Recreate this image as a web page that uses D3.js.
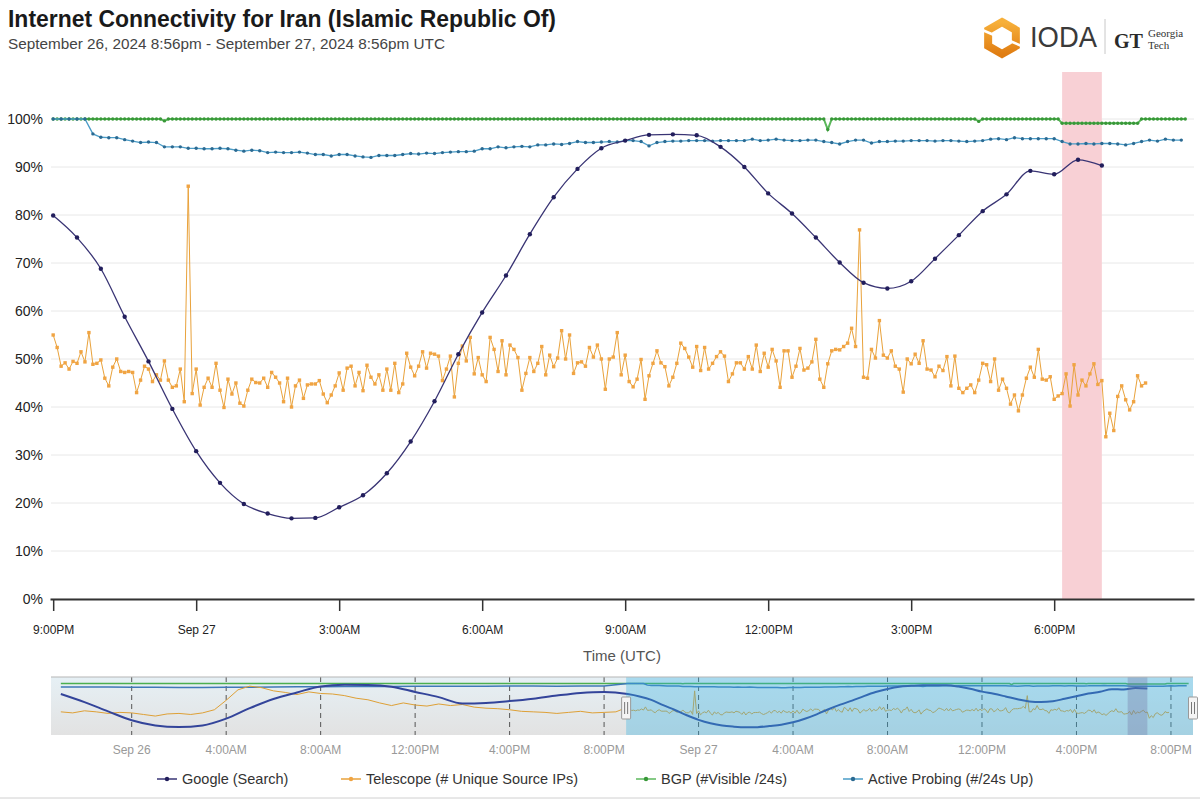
<!DOCTYPE html>
<html><head><meta charset="utf-8">
<script src="https://cdn.jsdelivr.net/npm/d3@7"></script>
<style>
html,body{margin:0;padding:0;background:#fff;}
svg{display:block;font-family:"Liberation Sans",Arial,Helvetica,sans-serif;}
</style></head><body>
<svg id="chart" width="1200" height="800"></svg>
<script>
// ---------------- DATA ----------------
const titleText = "Internet Connectivity for Iran (Islamic Republic Of)";
const subtitleText = "September 26, 2024 8:56pm - September 27, 2024 8:56pm UTC";
const seriesNames = ["Google (Search)", "Telescope (# Unique Source IPs)", "BGP (#Visible /24s)", "Active Probing (#/24s Up)"];
const yTicks = [0,10,20,30,40,50,60,70,80,90,100];

// Google (Search), every 30 min from Sep 26 21:00 UTC
const googleVals = [79.9,75.3,68.8,58.8,49.5,39.6,30.8,24.2,19.8,17.8,16.8,16.9,19.1,21.6,26.2,32.8,41.2,51.0,59.7,67.4,76.0,83.7,89.6,93.9,95.5,96.7,96.8,96.6,94.2,90.0,84.5,80.3,75.3,70.1,65.9,64.7,66.2,70.9,75.8,80.8,84.3,89.2,88.5,91.5,90.3];

// Telescope, every 5 min from Sep 26 21:00 UTC
const telescopeVals = [
55.0,52.4,48.5,49.2,47.9,49.5,49.1,51.5,49.4,55.5,
48.9,49.1,49.8,46.0,44.4,48.3,50.0,47.4,47.2,47.4,
47.2,43.0,45.6,48.5,47.9,45.3,46.7,45.6,49.6,45.6,
44.1,44.4,47.9,41.1,86.0,42.8,47.9,40.4,44.1,46.0,
44.1,49.1,43.5,39.9,45.8,42.7,45.0,40.8,40.2,43.5,
45.8,45.1,45.0,46.0,44.1,47.2,46.2,45.0,41.1,46.0,
40.0,44.4,45.6,41.8,44.6,44.8,44.8,45.5,42.7,40.9,
42.5,44.4,47.1,43.5,48.1,48.5,44.4,47.2,43.4,48.7,
46.2,44.8,46.7,43.5,47.9,43.5,49.1,
43.0,44.8,51.2,48.3,46.5,48.5,51.5,48.1,51.2,51.0,
50.6,45.5,47.9,50.6,42.1,49.1,52.7,49.6,54.5,46.9,
50.3,46.7,45.3,54.5,52.0,47.4,53.8,46.7,52.9,52.0,
50.3,43.5,47.0,50.3,47.4,49.1,52.6,46.7,50.8,48.4,
50.2,55.9,50.0,55.0,47.0,49.2,
49.4,48.5,52.4,50.4,52.9,50.0,43.7,50.0,50.4,55.5,
46.7,50.8,45.3,44.2,45.8,49.9,41.6,46.5,49.1,51.7,
49.2,48.4,44.4,46.2,49.1,53.3,52.2,50.4,48.3,52.6,
47.6,52.4,47.9,49.1,50.5,51.5,50.6,45.3,46.9,49.2,
49.2,47.9,50.5,47.9,52.9,47.4,51.2,48.3,52.0,49.6,
44.1,51.7,51.7,46.2,48.5,52.2,47.7,48.1,49.4,54.1,
45.8,44.1,49.0,51.7,52.0,51.9,52.6,53.3,56.4,52.6,
76.9,46.2,46.0,52.0,50.2,58.0,50.8,50.2,51.7,48.5,
47.9,43.1,50.0,49.0,51.0,49.1,53.8,47.9,47.7,46.3,
48.5,47.6,50.5,44.4,50.6,43.9,43.0,43.9,44.6,43.0,
45.6,49.1,48.8,45.3,50.0,43.5,45.8,43.9,40.6,42.5,
39.2,42.5,46.0,48.3,46.2,52.0,45.8,45.6,46.3,41.6,
42.3,42.8,46.9,40.2,48.8,42.5,45.6,44.4,46.9,49.0,
44.7,45.5,33.8,38.7,35.1,42.2,44.4,41.5,39.4,41.1,
46.5,44.4,45.0];

// BGP, every 5 min from Sep 26 21:00 UTC
const bgpVals = [
100,100,100,100,100,100,100,100,100,100,100,100,100,100,100,100,100,100,100,100,
100,100,100,100,100,100,100,100,99.6,100,100,100,100,100,100,100,100,100,100,100,
100,100,100,100,100,100,100,100,100,100,100,100,100,100,100,100,100,100,100,100,
100,100,100,100,100,100,100,100,100,100,100,100,100,100,100,100,100,100,100,100,
100,100,100,100,100,100,100,100,100,100,100,100,100,100,100,100,100,100,100,100,
100,100,100,100,100,100,100,100,100,100,100,100,100,100,100,100,100,100,100,100,
100,100,100,100,100,100,100,100,100,100,100,100,100,100,100,100,100,100,100,100,
100,100,100,100,100,100,100,100,100,100,100,100,100,100,100,100,100,100,100,100,
100,100,100,100,100,100,100,100,100,100,100,100,100,100,100,100,100,100,100,100,
100,100,100,100,100,100,100,100,100,100,100,100,100,100,100,97.8,100,100,100,100,
100,100,100,100,100,100,100,100,100,100,100,100,100,100,100,100,100,100,100,100,
100,100,100,100,100,100,100,100,100,100,100,100,100,99.5,100,100,100,100,100,100,
100,100,100,100,100,100,100,100,100,100,100,100,100,100,99.1,99.1,99.1,99.1,99.1,99.1,
99.1,99.1,99.1,99.1,99.1,99.1,99.1,99.1,99.1,99.1,99.1,99.1,99.1,99.1,100,100,100,100,100,100,
100,100,100,100,100,100];

// Active Probing, every 10 min from Sep 26 21:00 UTC
const probingVals = [
100,100,100,100,100,96.9,96.2,96.1,96.1,95.7,95.4,95.1,95.2,95.1,94.2,94.2,94.2,93.9,93.9,93.8,
93.8,93.9,93.8,93.5,93.3,93.5,93.4,93.0,93.1,93.0,93.0,93.1,92.9,92.6,92.6,92.3,92.6,92.6,92.3,92.1,
92.0,92.4,92.4,92.4,92.6,92.8,92.7,92.9,92.8,93.0,93.1,93.2,93.2,93.3,93.8,93.8,94.2,94.0,94.2,94.3,
94.2,94.6,94.6,94.8,94.7,94.9,95.3,95.1,95.1,95.2,95.3,95.2,95.5,95.5,95.3,94.4,95.1,95.3,95.4,95.4,
95.5,95.5,95.5,95.4,95.5,95.5,95.5,95.5,95.8,95.5,95.6,95.8,95.6,95.5,95.5,95.6,95.6,95.3,95.1,94.8,
95.3,95.6,95.6,95.0,95.3,95.3,95.4,95.4,95.5,95.5,95.5,95.4,95.5,95.5,95.4,95.3,95.4,95.5,95.8,95.9,
95.7,96.1,95.9,95.9,95.9,95.9,95.9,95.3,94.8,94.8,94.9,94.8,94.9,94.9,94.8,94.6,94.9,95.3,95.6,95.4,
95.8,95.6,95.6];

// Navigator: previous day (Sep 25 21:00 -> Sep 26 20:xx UTC)
const navGooglePrev = [80,64.5,47,30,20,17,20,33,53,70.5,83,94.5,97.5,97.2,94,84,74,62,63,66.5,71,77,82,84]; // hourly
const navTelescopePrev = [46,44,48,46,43,45,44,41,38,42,43,41,44,50,68,88,95,92,86,83,79,84,81,80,77,72,69,63,58,63,59,57,61,58,60,55,53,52,50,47,46,45,43,45,47,44,45,46]; // 30 min
const navProbingPrev = [93.5,93.2,93.4,93.0,92.8,92.6,92.5,92.7,93.0,93.3,93.6,93.9,94.2,94.4,94.5,94.6,94.7,94.8,95.0,95.1,95.2,95.0,95.1,95.2]; // hourly
const navBgpPrev = [100,100,100,100,100,100,100,100,100,100,100,100,100,100,100,100,100,100,100,100,100,100,100,100]; // hourly

// ---------------- LAYOUT ----------------
const colors = {google:"#393474", googleDot:"#221e5c", tele:"#e9a23b", teleDot:"#f0a443",
                bgp:"#5cb85c", bgpDot:"#389838", probe:"#4a9cc7", probeDot:"#2b6a92"};
const navColors = {google:"#33449a", tele:"#dea036", bgp:"#4caf50", probe:"#3f78b8"};
const MIN = 60000;
const t0 = Date.UTC(2024,8,26,21,0);
const series = (vals, stepMin, start) => vals.map((v,i)=>({t:new Date(start + i*stepMin*MIN), v}));

const googleData = series(googleVals, 30, t0);
const teleData = series(telescopeVals, 5, t0);
const bgpData = series(bgpVals, 5, t0);
const probeData = series(probingVals, 10, t0);

const svg = d3.select("#chart");
const x = d3.scaleUtc().domain([new Date(Date.UTC(2024,8,26,20,56)), new Date(Date.UTC(2024,8,27,20,56))]).range([50,1194]);
const y = d3.scaleLinear().domain([0,100]).range([599,119]);

const fmtTime = d3.utcFormat("%-I:%M%p");
const fmtDay = d3.utcFormat("%b %-d");
const tickFmt = d => (d.getUTCHours()===0 && d.getUTCMinutes()===0) ? fmtDay(d) : fmtTime(d);

// Title
svg.append("text").attr("x",8).attr("y",27).attr("font-size",23).attr("font-weight","bold")
  .attr("fill","#1a1a1a").attr("textLength",548).attr("lengthAdjust","spacingAndGlyphs").text(titleText);
svg.append("text").attr("x",8).attr("y",49).attr("font-size",15).attr("fill","#444")
  .attr("textLength",437).attr("lengthAdjust","spacingAndGlyphs").text(subtitleText);

// Logo
const defs = svg.append("defs");
const lg = defs.append("linearGradient").attr("id","hexg").attr("x1",0).attr("y1",0).attr("x2",0).attr("y2",1);
lg.append("stop").attr("offset","0%").attr("stop-color","#f7b03a");
lg.append("stop").attr("offset","100%").attr("stop-color","#e07d12");
const hc = [1002,38], hr = 16;
const hexPts = d3.range(6).map(i=>{const a=Math.PI/180*(60*i-90);return [hc[0]+hr*Math.cos(a), hc[1]+hr*Math.sin(a)];});
svg.append("path").attr("d","M"+hexPts.map(p=>p.join(",")).join("L")+"Z")
  .attr("fill","none").attr("stroke","url(#hexg)").attr("stroke-width",8).attr("stroke-linejoin","miter");
svg.append("line").attr("x1",hc[0]-22).attr("y1",hc[1]-9).attr("x2",hc[0]-8).attr("y2",hc[1]-3).attr("stroke","#fff").attr("stroke-width",2.5);
svg.append("line").attr("x1",hc[0]+8).attr("y1",hc[1]+3).attr("x2",hc[0]+22).attr("y2",hc[1]+9).attr("stroke","#fff").attr("stroke-width",2.5);
svg.append("text").attr("x",1030).attr("y",47).attr("font-size",30).attr("fill","#3a3a3a")
  .attr("textLength",67).attr("lengthAdjust","spacingAndGlyphs").text("IODA");
svg.append("line").attr("x1",1105).attr("x2",1105).attr("y1",19).attr("y2",54).attr("stroke","#c8c8c8");
svg.append("text").attr("x",1114).attr("y",48).attr("font-size",21).attr("font-weight","bold")
  .attr("font-family","'Liberation Serif','DejaVu Serif',serif").attr("fill","#2a2a2a")
  .attr("textLength",29).attr("lengthAdjust","spacingAndGlyphs").text("GT");
svg.append("text").attr("x",1148).attr("y",37).attr("font-size",11).attr("font-family","'Liberation Serif','DejaVu Serif',serif").attr("fill","#333").text("Georgia");
svg.append("text").attr("x",1148).attr("y",49).attr("font-size",11).attr("font-family","'Liberation Serif','DejaVu Serif',serif").attr("fill","#333").text("Tech");

// Gridlines
svg.append("g").selectAll("line").data(yTicks).join("line")
  .attr("x1",51).attr("x2",1194).attr("y1",d=>y(d)).attr("y2",d=>y(d))
  .attr("stroke","#e8e8e8").attr("stroke-width",1);

// Outage band
const bandStart = new Date(Date.UTC(2024,8,27,18,10)), bandEnd = new Date(Date.UTC(2024,8,27,19,0));
svg.append("rect").attr("x",x(bandStart)).attr("width",x(bandEnd)-x(bandStart))
  .attr("y",72).attr("height",599-72).attr("fill","#f8d0d5");

// Y axis
const yAxis = svg.append("g").attr("transform","translate(51,0)")
  .call(d3.axisLeft(y).tickValues(yTicks).tickFormat(d=>d+"%").tickSize(0).tickPadding(8));
yAxis.select(".domain").remove();
yAxis.selectAll("text").attr("font-size",14).attr("fill","#222").attr("font-family","'Liberation Sans',Arial,sans-serif");

// X axis
const xTicks = d3.utcHour.every(3).range(x.domain()[0], x.domain()[1]);
const xAxis = svg.append("g").attr("transform","translate(0,599)")
  .call(d3.axisBottom(x).tickValues(xTicks).tickFormat(tickFmt).tickSize(12).tickSizeOuter(0).tickPadding(14));
xAxis.select(".domain").attr("stroke","#333").attr("stroke-width",2);
xAxis.selectAll(".tick line").attr("stroke","#333").attr("stroke-width",1.5);
xAxis.selectAll("text").attr("font-size",12).attr("fill","#222").attr("font-family","'Liberation Sans',Arial,sans-serif");
svg.append("text").attr("x",622).attr("y",661).attr("text-anchor","middle").attr("font-size",15).attr("fill","#555").text("Time (UTC)");

// Series lines
defs.append("clipPath").attr("id","plotclip").append("rect").attr("x",48).attr("y",60).attr("width",1150).attr("height",545);
const plot = svg.append("g").attr("clip-path","url(#plotclip)");
const line = d3.line().x(d=>x(d.t)).y(d=>y(d.v));

plot.append("path").datum(teleData).attr("d",line).attr("fill","none").attr("stroke",colors.tele).attr("stroke-width",1);
plot.append("g").selectAll("rect").data(teleData).join("rect")
  .attr("x",d=>x(d.t)-1.7).attr("y",d=>y(d.v)-1.7).attr("width",3.4).attr("height",3.4).attr("fill",colors.teleDot);

plot.append("path").datum(bgpData).attr("d",line).attr("fill","none").attr("stroke",colors.bgp).attr("stroke-width",2);
plot.append("g").selectAll("circle").data(bgpData).join("circle")
  .attr("cx",d=>x(d.t)).attr("cy",d=>y(d.v)).attr("r",1.7).attr("fill",colors.bgpDot);

plot.append("path").datum(probeData).attr("d",line).attr("fill","none").attr("stroke",colors.probe).attr("stroke-width",1.3);
plot.append("g").selectAll("circle").data(probeData).join("circle")
  .attr("cx",d=>x(d.t)).attr("cy",d=>y(d.v)).attr("r",1.7).attr("fill",colors.probeDot);

plot.append("path").datum(googleData).attr("d",line.curve(d3.curveMonotoneX)).attr("fill","none").attr("stroke",colors.google).attr("stroke-width",1.3);
plot.append("g").selectAll("circle").data(googleData).join("circle")
  .attr("cx",d=>x(d.t)).attr("cy",d=>y(d.v)).attr("r",2.2).attr("fill",colors.googleDot);

// ---------------- NAVIGATOR ----------------
const navTop = 677, navBot = 735;
const navX = d3.scaleUtc().domain([new Date(Date.UTC(2024,8,25,20,35)), new Date(Date.UTC(2024,8,27,20,56))]).range([51,1193]);
const navY = d3.scaleLinear().domain([0,100]).range([736,683.5]);
const tPrev = Date.UTC(2024,8,25,21,0);
const navGoogle = series(navGooglePrev,60,tPrev).concat(googleData);
const navTele = series(navTelescopePrev,30,tPrev).concat(teleData);
const navProbe = series(navProbingPrev,60,tPrev).concat(probeData);
const navBgp = series(navBgpPrev,60,tPrev).concat(bgpData);

const ng = defs.append("linearGradient").attr("id","navbg").attr("x1",0).attr("y1",0).attr("x2",0).attr("y2",1);
ng.append("stop").attr("offset","0%").attr("stop-color","#e6f0f5");
ng.append("stop").attr("offset","100%").attr("stop-color","#e2e2e2");
svg.append("rect").attr("x",51).attr("y",navTop).attr("width",1193-51).attr("height",navBot-navTop).attr("fill","url(#navbg)");

const navTicks = d3.utcHour.every(4).range(navX.domain()[0], navX.domain()[1]);
svg.append("g").selectAll("line").data(navTicks).join("line")
  .attr("x1",d=>navX(d)).attr("x2",d=>navX(d)).attr("y1",navTop).attr("y2",navBot)
  .attr("stroke","#555").attr("stroke-dasharray","5,4").attr("stroke-width",1);

defs.append("clipPath").attr("id","navclip").append("rect").attr("x",51).attr("y",navTop).attr("width",1142).attr("height",navBot-navTop);
const nav = svg.append("g").attr("clip-path","url(#navclip)");
const nline = d3.line().x(d=>navX(d.t)).y(d=>navY(d.v));
nav.append("path").datum(navBgp).attr("d",nline).attr("fill","none").attr("stroke",navColors.bgp).attr("stroke-width",1.5);
nav.append("path").datum(navProbe).attr("d",nline).attr("fill","none").attr("stroke",navColors.probe).attr("stroke-width",1.5);
nav.append("path").datum(navTele).attr("d",nline).attr("fill","none").attr("stroke",navColors.tele).attr("stroke-width",1);
nav.append("path").datum(navGoogle).attr("d",d3.line().x(d=>navX(d.t)).y(d=>navY(d.v)).curve(d3.curveMonotoneX)).attr("fill","none").attr("stroke",navColors.google).attr("stroke-width",2);

// selection + outage overlay
const selStart = x.domain()[0], selEnd = x.domain()[1];
svg.append("rect").attr("x",navX(selStart)).attr("y",navTop).attr("width",navX(selEnd)-navX(selStart)).attr("height",navBot-navTop)
  .attr("fill","rgb(52,179,227)").attr("fill-opacity",0.35);
svg.append("rect").attr("x",navX(bandStart)).attr("y",navTop).attr("width",navX(bandEnd)-navX(bandStart)).attr("height",navBot-navTop)
  .attr("fill","#6b6b9c").attr("fill-opacity",0.3);
svg.append("line").attr("x1",51).attr("x2",1193).attr("y1",navTop).attr("y2",navTop).attr("stroke","#b5b5b5");

// handles
[navX(selStart), navX(selEnd)].forEach(hx=>{
  const g = svg.append("g");
  g.append("rect").attr("x",hx-4.5).attr("y",697).attr("width",9).attr("height",22).attr("rx",1)
    .attr("fill","#f4f4f4").attr("stroke","#999");
  g.append("line").attr("x1",hx-1.5).attr("x2",hx-1.5).attr("y1",702).attr("y2",714).attr("stroke","#777");
  g.append("line").attr("x1",hx+1.5).attr("x2",hx+1.5).attr("y1",702).attr("y2",714).attr("stroke","#777");
});

svg.append("g").selectAll("text").data(navTicks).join("text")
  .attr("x",d=>navX(d)).attr("y",754).attr("text-anchor","middle").attr("font-size",12).attr("fill","#999").text(tickFmt);

// ---------------- LEGEND ----------------
const legendX = [157,341,636,843];
const legendCol = [colors.google, colors.tele, colors.bgp, colors.probe];
const legendDot = [colors.googleDot, colors.teleDot, colors.bgpDot, colors.probeDot];
const leg = svg.append("g").selectAll("g").data(seriesNames).join("g").attr("transform",(d,i)=>`translate(${legendX[i]},779)`);
leg.append("line").attr("x1",0).attr("x2",20).attr("y1",0).attr("y2",0).attr("stroke",(d,i)=>legendCol[i]).attr("stroke-width",1.5);
leg.append("circle").attr("cx",10).attr("cy",0).attr("r",2.2).attr("fill",(d,i)=>legendDot[i]);
leg.append("text").attr("x",25).attr("y",5).attr("font-size",14.5).attr("fill","#333").text(d=>d);

svg.append("line").attr("x1",0).attr("x2",1200).attr("y1",798).attr("y2",798).attr("stroke","#d0d0d0");
</script>
</body></html>
